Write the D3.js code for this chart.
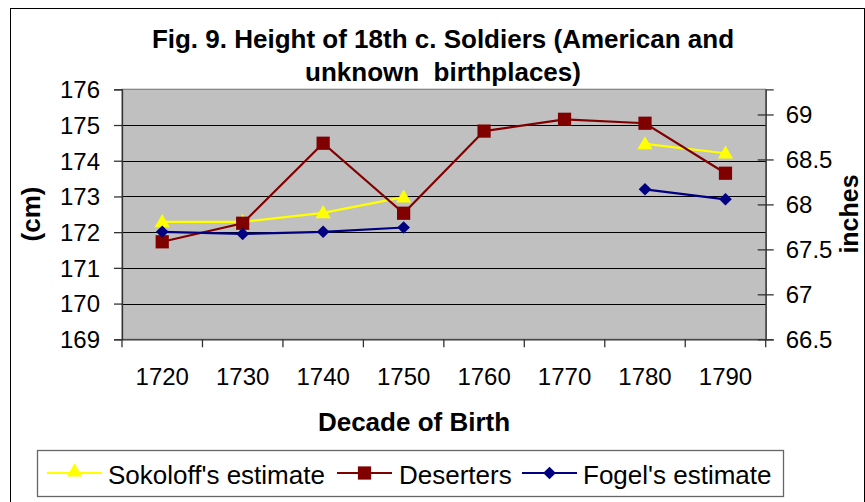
<!DOCTYPE html>
<html>
<head>
<meta charset="utf-8">
<script src="https://cdn.jsdelivr.net/npm/d3@7"></script>
<style>
  html, body { margin: 0; padding: 0; background: #fff; }
  svg { display: block; }
  text { font-family: "Liberation Sans", Arial, Helvetica, sans-serif; fill: #000; }
</style>
</head>
<body>
<svg id="chart" width="865" height="502"></svg>
<script>
// ---- data ----
const categories = ["1720", "1730", "1740", "1750", "1760", "1770", "1780", "1790"];
const sokoloff  = [172.29, 172.29, 172.54, 172.98, null, null, 174.47, 174.21];
const deserters = [171.73, 172.25, 174.49, 172.53, 174.83, 175.16, 175.05, 173.65];
const fogel     = [172.01, 171.95, 172.01, 172.13, null, null, 173.20, 172.92];
const cmTicks   = [169, 170, 171, 172, 173, 174, 175, 176];
const inchTicks = [66.5, 67, 67.5, 68, 68.5, 69];
const seriesNames = ["Sokoloff's estimate", "Deserters", "Fogel's estimate"];

// ---- layout ----
const plot = { left: 122, right: 765.7, top: 89.3, bottom: 339.3 };
const svg = d3.select("#chart");

// outer chart border
svg.append("rect").attr("x", 10.5).attr("y", 8.5).attr("width", 854).attr("height", 500)
  .attr("fill", "#fff").attr("stroke", "#000").attr("stroke-width", 1);

const x = d3.scaleBand().domain(categories).range([plot.left, plot.right]);
const y = d3.scaleLinear().domain([169, 176]).range([plot.bottom, plot.top]);
const yR = d3.scaleLinear().domain([66.5, 69.28]).range([plot.bottom, plot.top]);

// plot area
svg.append("rect").attr("x", plot.left).attr("y", plot.top)
  .attr("width", plot.right - plot.left).attr("height", plot.bottom - plot.top)
  .attr("fill", "#c0c0c0").attr("stroke", "#808080").attr("stroke-width", 1.2);

// gridlines
svg.append("g").selectAll("line").data(cmTicks.filter(t => t > 169 && t < 176)).join("line")
  .attr("x1", plot.left).attr("x2", plot.right)
  .attr("y1", d => Math.round(y(d)) + 0.5).attr("y2", d => Math.round(y(d)) + 0.5)
  .attr("stroke", "#000").attr("stroke-width", 1.2);

// left axis
const gL = svg.append("g").attr("transform", `translate(${plot.left},0)`)
  .call(d3.axisLeft(y).tickValues(cmTicks).tickSize(8).tickPadding(14).tickFormat(d3.format("d")));
gL.selectAll("text").style("font-size", "24px").attr("dy", "0.35em");
gL.selectAll("line, path").attr("stroke", "#333").attr("stroke-width", 1.3);

// right axis
const gR = svg.append("g").attr("transform", `translate(${plot.right},0)`)
  .call(d3.axisRight(yR).tickValues(inchTicks).tickSize(8).tickPadding(12).tickFormat(d => String(d)));
gR.selectAll(".tick line").attr("x1", -8).attr("x2", 8);
gR.selectAll("text").style("font-size", "24px").attr("dy", "0.35em");
gR.selectAll("line, path").attr("stroke", "#333").attr("stroke-width", 1.3);

// bottom axis (labels) + boundary ticks
const gB = svg.append("g").attr("transform", `translate(0,${plot.bottom})`)
  .call(d3.axisBottom(x).tickSize(0).tickPadding(0));
gB.select(".domain").attr("stroke", "#333").attr("stroke-width", 1.3);
gB.selectAll("text").style("font-size", "24px").attr("y", 46).attr("dy", null);
const bounds = categories.map(c => x(c)).concat([x.range()[1]]);
svg.append("g").selectAll("line").data(bounds).join("line")
  .attr("x1", d => d).attr("x2", d => d)
  .attr("y1", plot.bottom).attr("y2", plot.bottom + 8)
  .attr("stroke", "#333").attr("stroke-width", 1.3);

// series
const cx = c => x(c) + x.bandwidth() / 2;
const colors = ["#ffff00", "#800000", "#000080"];
const symbols = [d3.symbolTriangle, d3.symbolSquare, d3.symbolSquare];
const rotations = [0, 0, 45];
const sizes = [100, 175, 80];
const offsets = [1, 0, 0];
const allSeries = [sokoloff, deserters, fogel];

allSeries.forEach((vals, i) => {
  const pts = categories.map((c, j) => ({ c, v: vals[j] }));
  const line = d3.line().defined(d => d.v !== null).x(d => cx(d.c)).y(d => y(d.v));
  svg.append("path").datum(pts).attr("d", line)
    .attr("fill", "none").attr("stroke", colors[i]).attr("stroke-width", 2.2);
  svg.append("g").selectAll("path").data(pts.filter(d => d.v !== null)).join("path")
    .attr("transform", d => `translate(${cx(d.c)},${y(d.v) + offsets[i]}) rotate(${rotations[i]})`)
    .attr("d", d3.symbol().type(symbols[i]).size(sizes[i]))
    .attr("fill", colors[i]);
});

// title
svg.append("text").attr("x", 443).attr("y", 48).attr("text-anchor", "middle")
  .style("font-size", "26px").style("font-weight", "bold")
  .text("Fig. 9. Height of 18th c. Soldiers (American and");
svg.append("text").attr("x", 443).attr("y", 81).attr("text-anchor", "middle")
  .style("font-size", "26px").style("font-weight", "bold").style("white-space", "pre")
  .text("unknown  birthplaces)");

// axis titles
svg.append("text").attr("x", 414).attr("y", 431).attr("text-anchor", "middle")
  .style("font-size", "26px").style("font-weight", "bold").text("Decade of Birth");
svg.append("text").attr("transform", "translate(40,214) rotate(-90)").attr("text-anchor", "middle")
  .style("font-size", "26px").style("font-weight", "bold").text("(cm)");
svg.append("text").attr("transform", "translate(858,214) rotate(-90)").attr("text-anchor", "middle")
  .style("font-size", "25px").style("font-weight", "bold").text("inches");

// legend
svg.append("rect").attr("x", 37.5).attr("y", 450.5).attr("width", 746).attr("height", 46)
  .attr("fill", "#fff").attr("stroke", "#666").attr("stroke-width", 1.3);
const legendX = [{ l: 47, t: 108 }, { l: 337, t: 399 }, { l: 522, t: 583 }];
const ly = 473;
legendX.forEach((p, i) => {
  svg.append("line").attr("x1", p.l).attr("x2", p.l + 55).attr("y1", ly).attr("y2", ly)
    .attr("stroke", colors[i]).attr("stroke-width", 2.2);
  svg.append("path")
    .attr("transform", `translate(${p.l + 27.5},${ly + (i === 0 ? -1 : 0)}) rotate(${rotations[i]})`)
    .attr("d", d3.symbol().type(symbols[i]).size(sizes[i])).attr("fill", colors[i]);
  svg.append("text").attr("x", p.t).attr("y", ly + 5.5).attr("dy", "0.2em")
    .style("font-size", "26px").text(seriesNames[i]);
});
</script>
</body>
</html>
